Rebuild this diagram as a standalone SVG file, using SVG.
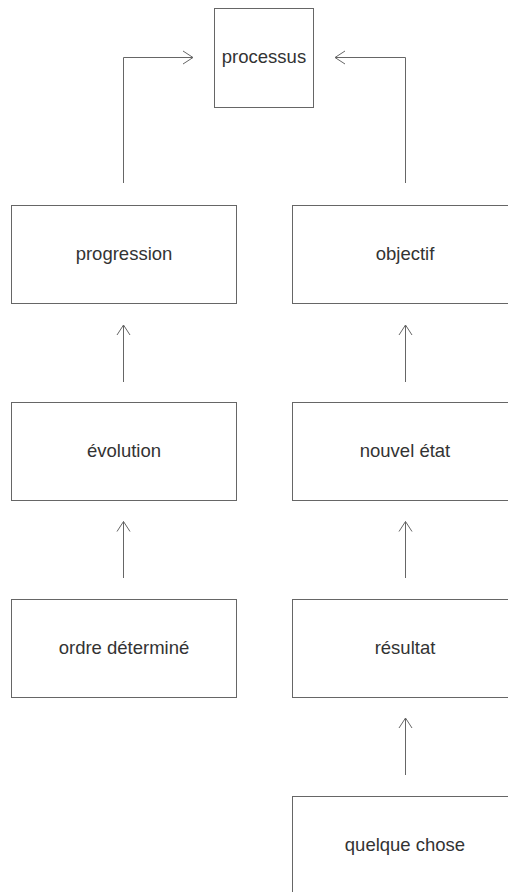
<svg xmlns="http://www.w3.org/2000/svg" width="508" height="892" viewBox="0 0 508 892">
  <style>
    .box { fill: #ffffff; stroke: #666666; stroke-width: 1; }
    .label { font-family: "Liberation Sans", Arial, Helvetica, sans-serif; font-size: 18.5px; fill: #333333; text-anchor: middle; dominant-baseline: central; }
    .link { fill: none; stroke: #666666; stroke-width: 1; }
  </style>
  <defs>
    <marker id="open-arrow" viewBox="0 0 12 16" refX="11" refY="8" markerWidth="12" markerHeight="16" markerUnits="userSpaceOnUse" orient="auto">
      <path d="M1,1.5 L11,8 L1,14.5" fill="none" stroke="#666666" stroke-width="1"/>
    </marker>
  </defs>
  <rect width="508" height="892" fill="#ffffff"/>

  <g id="connectors">
    <path class="link" d="M123.5,183 V57.5 H193" marker-end="url(#open-arrow)"/>
    <path class="link" d="M405.5,183 V57.5 H335" marker-end="url(#open-arrow)"/>
    <path class="link" d="M123.5,382 V325" marker-end="url(#open-arrow)"/>
    <path class="link" d="M405.5,382 V325" marker-end="url(#open-arrow)"/>
    <path class="link" d="M123.5,578 V521.5" marker-end="url(#open-arrow)"/>
    <path class="link" d="M405.5,578 V521.5" marker-end="url(#open-arrow)"/>
    <path class="link" d="M405.5,775 V718" marker-end="url(#open-arrow)"/>
  </g>

  <g id="processus">
    <rect class="box" x="214.5" y="8.5" width="99" height="99"/>
    <text class="label" x="264" y="56">processus</text>
  </g>
  <g id="progression">
    <rect class="box" x="11.5" y="205.5" width="225" height="98"/>
    <text class="label" x="124" y="253">progression</text>
  </g>
  <g id="objectif">
    <rect class="box" x="292.5" y="205.5" width="225" height="98"/>
    <text class="label" x="405" y="253">objectif</text>
  </g>
  <g id="evolution">
    <rect class="box" x="11.5" y="402.5" width="225" height="98"/>
    <text class="label" x="124" y="450">évolution</text>
  </g>
  <g id="nouvel-etat">
    <rect class="box" x="292.5" y="402.5" width="225" height="98"/>
    <text class="label" x="405" y="450">nouvel état</text>
  </g>
  <g id="ordre-determine">
    <rect class="box" x="11.5" y="599.5" width="225" height="98"/>
    <text class="label" x="124" y="647">ordre déterminé</text>
  </g>
  <g id="resultat">
    <rect class="box" x="292.5" y="599.5" width="225" height="98"/>
    <text class="label" x="405" y="647">résultat</text>
  </g>
  <g id="quelque-chose">
    <rect class="box" x="292.5" y="796.5" width="225" height="98"/>
    <text class="label" x="405" y="844">quelque chose</text>
  </g>
</svg>
